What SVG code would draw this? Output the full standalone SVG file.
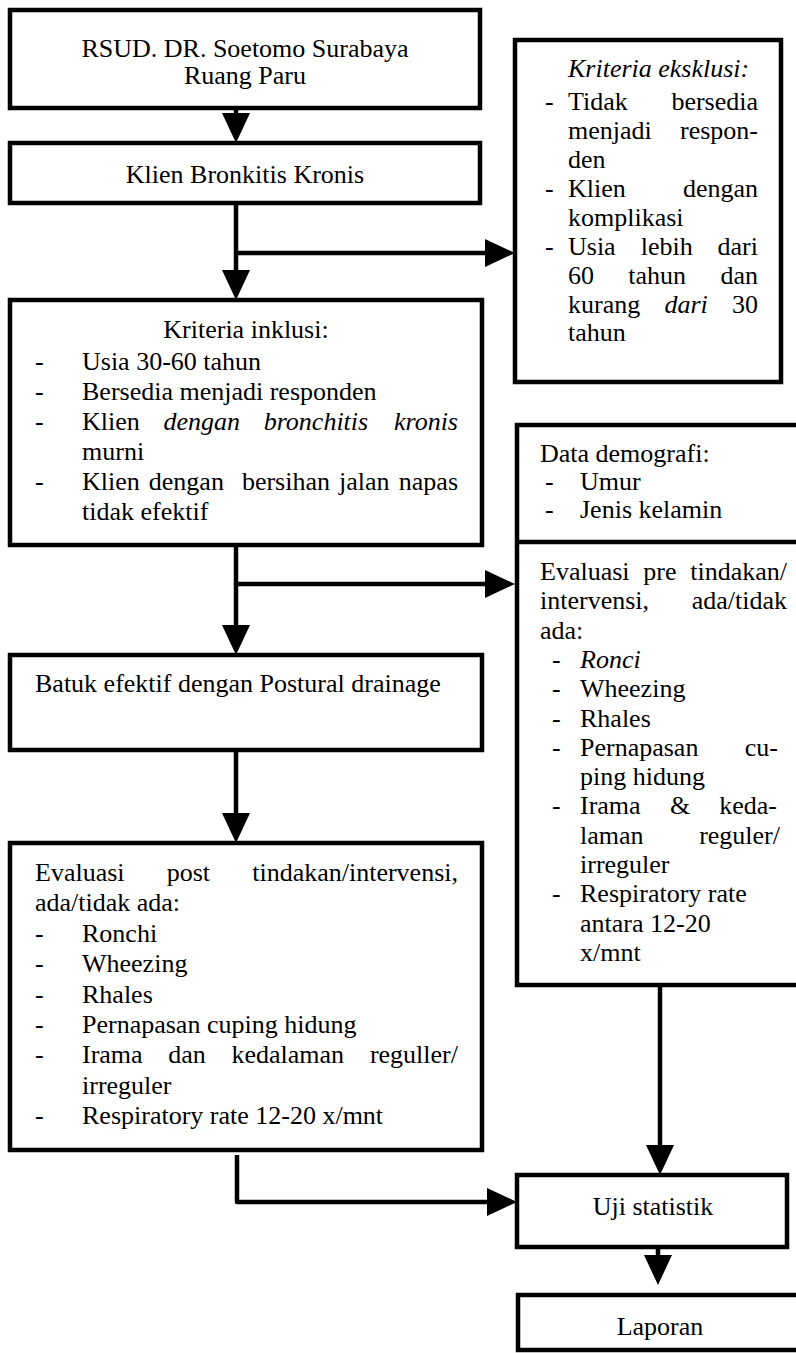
<svg xmlns="http://www.w3.org/2000/svg" width="796" height="1353" viewBox="0 0 796 1353">
<style>
.box{fill:#fff;stroke:#000;stroke-width:4.5}
.ln{fill:none;stroke:#000;stroke-width:4.5;stroke-linejoin:round}
text{font-family:"Liberation Serif","Times New Roman",serif;font-size:26px;fill:#000}
.c{text-anchor:middle}
.e{text-anchor:end}
.i{font-style:italic}
</style>
<defs>
<marker id="ah" markerUnits="userSpaceOnUse" markerWidth="31" markerHeight="29" refX="0" refY="14" orient="auto" viewBox="0 0 31 29">
<path d="M0,0 L30,14 L0,28 Z" fill="#000"/>
</marker>
</defs>
<rect width="796" height="1353" fill="#fff"/>

<g id="connectors">
<path class="ln" d="M236,108 V113" marker-end="url(#ah)"/>
<path class="ln" d="M236,203 V270" marker-end="url(#ah)"/>
<path class="ln" d="M236,253 H485" marker-end="url(#ah)"/>
<path class="ln" d="M236,545 V625" marker-end="url(#ah)"/>
<path class="ln" d="M236,584 H485" marker-end="url(#ah)"/>
<path class="ln" d="M236,750 V813" marker-end="url(#ah)"/>
<path class="ln" d="M237,1155 V1202 H487" marker-end="url(#ah)"/>
<path class="ln" d="M660,985 V1145" marker-end="url(#ah)"/>
<path class="ln" d="M658,1247 V1255" marker-end="url(#ah)"/>
</g>

<g id="n1">
<rect class="box" x="10" y="10" width="470" height="98"/>
<text class="c" x="245" y="57">RSUD. DR. Soetomo Surabaya</text>
<text class="c" x="245" y="84">Ruang Paru</text>
</g>

<g id="n2">
<rect class="box" x="10" y="143" width="470" height="60"/>
<text class="c" x="245" y="183">Klien Bronkitis Kronis</text>
</g>

<g id="n3">
<rect class="box" x="515" y="40" width="266" height="342"/>
<text class="i" x="568" y="77">Kriteria eksklusi:</text>
<text x="545" y="110">-</text>
<text x="568" y="110">Tidak</text><text class="e" x="758" y="110">bersedia</text>
<text x="568" y="139">menjadi</text><text class="e" x="758" y="139">respon-</text>
<text x="568" y="168">den</text>
<text x="545" y="197">-</text>
<text x="568" y="197">Klien</text><text class="e" x="758" y="197">dengan</text>
<text x="568" y="226">komplikasi</text>
<text x="545" y="255">-</text>
<text x="568" y="255">Usia</text><text x="640.7" y="255">lebih</text><text class="e" x="758" y="255">dari</text>
<text x="568" y="284">60</text><text x="628.3" y="284">tahun</text><text class="e" x="758" y="284">dan</text>
<text x="568" y="313">kurang</text><text class="i" x="664.5" y="313">dari</text><text class="e" x="758" y="313">30</text>
<text x="568" y="341">tahun</text>
</g>

<g id="n4">
<rect class="box" x="10" y="300" width="472" height="245"/>
<text class="c" x="246" y="338">Kriteria inklusi:</text>
<text x="35" y="370">-</text><text x="82" y="370">Usia 30-60 tahun</text>
<text x="35" y="400">-</text><text x="82" y="400">Bersedia menjadi responden</text>
<text x="35" y="430">-</text><text x="82" y="430">Klien</text><text class="i" x="163.5" y="430">dengan</text><text class="i" x="263.7" y="430">bronchitis</text><text class="e i" x="458" y="430">kronis</text>
<text x="82" y="460">murni</text>
<text x="35" y="490">-</text><text x="82" y="490">Klien</text><text x="148.8" y="490">dengan</text><text x="241.9" y="490">bersihan</text><text x="339" y="490">jalan</text><text class="e" x="458" y="490">napas</text>
<text x="82" y="520">tidak efektif</text>
</g>

<g id="n5">
<rect class="box" x="517" y="425" width="290" height="560"/>
<path class="ln" d="M517,542 H800"/>
<text x="540" y="462">Data demografi:</text>
<text x="545" y="490">-</text><text x="580" y="490">Umur</text>
<text x="545" y="518">-</text><text x="580" y="518">Jenis kelamin</text>
<text x="540" y="580">Evaluasi</text><text x="643.3" y="580">pre</text><text class="e" x="787" y="580">tindakan/</text>
<text x="540" y="609.3">intervensi,</text><text class="e" x="787" y="609.3">ada/tidak</text>
<text x="540" y="638.6">ada:</text>
<text x="552" y="667.9">-</text><text class="i" x="580" y="667.9">Ronci</text>
<text x="552" y="697.2">-</text><text x="580" y="697.2">Wheezing</text>
<text x="552" y="726.5">-</text><text x="580" y="726.5">Rhales</text>
<text x="552" y="755.8">-</text><text x="580" y="755.8">Pernapasan</text><text class="e" x="778" y="755.8">cu-</text>
<text x="580" y="785.1">ping hidung</text>
<text x="552" y="814.4">-</text><text x="580" y="814.4">Irama</text><text x="669.9" y="814.4">&amp;</text><text class="e" x="777" y="814.4">keda-</text>
<text x="580" y="843.7">laman</text><text class="e" x="780" y="843.7">reguler/</text>
<text x="580" y="873">irreguler</text>
<text x="552" y="902.3">-</text><text x="580" y="902.3">Respiratory rate</text>
<text x="580" y="931.6">antara 12-20</text>
<text x="580" y="960.9">x/mnt</text>
</g>

<g id="n6">
<rect class="box" x="10" y="655" width="472" height="95"/>
<text x="35" y="692">Batuk efektif dengan Postural drainage</text>
</g>

<g id="n7">
<rect class="box" x="10" y="843" width="472" height="307"/>
<text x="35" y="881">Evaluasi</text><text x="166.7" y="881">post</text><text class="e" x="458" y="881">tindakan/intervensi,</text>
<text x="35" y="911.4">ada/tidak ada:</text>
<text x="35" y="941.8">-</text><text x="82" y="941.8">Ronchi</text>
<text x="35" y="972.2">-</text><text x="82" y="972.2">Wheezing</text>
<text x="35" y="1002.6">-</text><text x="82" y="1002.6">Rhales</text>
<text x="35" y="1033">-</text><text x="82" y="1033">Pernapasan cuping hidung</text>
<text x="35" y="1063.4">-</text><text x="82" y="1063.4">Irama</text><text x="168.3" y="1063.4">dan</text><text x="231.5" y="1063.4">kedalaman</text><text class="e" x="458" y="1063.4">reguller/</text>
<text x="82" y="1093.8">irreguler</text>
<text x="35" y="1124.2">-</text><text x="82" y="1124.2">Respiratory rate 12-20 x/mnt</text>
</g>

<g id="n8">
<rect class="box" x="517" y="1175" width="270" height="72"/>
<text class="c" x="653" y="1215">Uji statistik</text>
</g>

<g id="n9">
<rect class="box" x="518" y="1295" width="290" height="55"/>
<text class="c" x="660" y="1335">Laporan</text>
</g>
</svg>
